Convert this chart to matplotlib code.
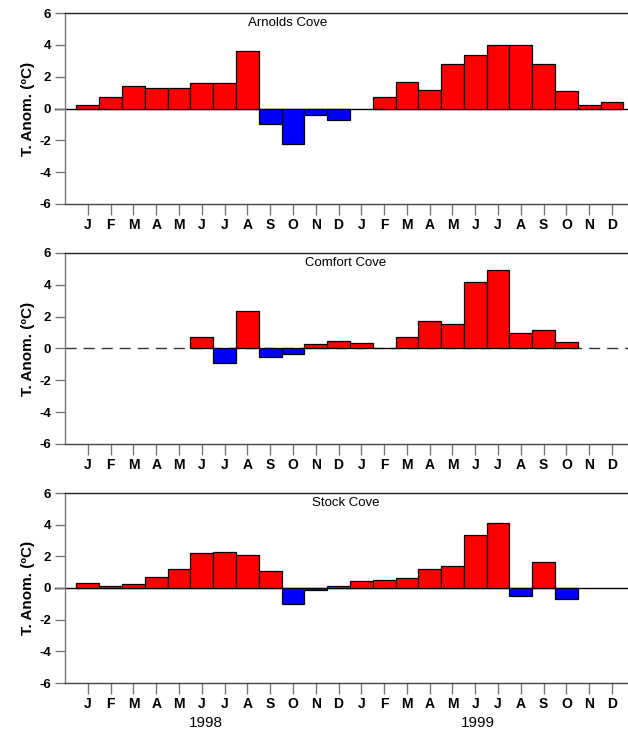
import numpy as np
import matplotlib.pyplot as plt
import matplotlib.transforms as mtransforms

plt.rcParams['font.family'] = ['Liberation Sans', 'DejaVu Sans']

months = ['J', 'F', 'M', 'A', 'M', 'J', 'J', 'A', 'S', 'O', 'N', 'D'] * 2
years = ['1998', '1999']
nan = np.nan

# monthly temperature anomalies, Jan 1998 .. Dec 1999
arnolds = [0.2, 0.7, 1.4, 1.3, 1.3, 1.6, 1.6, 3.6, -1.0, -2.2, -0.42, -0.75,
           nan, 0.75, 1.64, 1.16, 2.82, 3.39, 4.02, 4.02, 2.82, 1.09, 0.19, 0.38]
comfort = [nan, nan, nan, nan, nan, 0.75, -0.94, 2.33, -0.52, -0.34, 0.29, 0.44,
           0.36, 0.06, 0.73, 1.70, 1.55, 4.17, 4.93, 0.99, 1.17, 0.38, nan, nan]
stock = [0.31, 0.13, 0.23, 0.69, 1.17, 2.18, 2.30, 2.09, 1.07, -1.0, -0.12, 0.13,
         0.44, 0.52, 0.63, 1.23, 1.38, 3.37, 4.10, -0.50, 1.63, -0.67, nan, nan]

panels = [('Arnolds Cove', arnolds, 8.78, '-'),
          ('Comfort Cove', comfort, 11.3, 'dash'),
          ('Stock Cove', stock, 11.3, '-')]

W, H = 628, 733
fig = plt.figure(figsize=(W / 100, H / 100), dpi=100)

# pixel boxes (top, bottom) of each panel
boxes = [(13, 204), (253, 444), (493, 683)]
left_px, right_px = 65, 628

x = np.arange(24)
for (name, vals, tx, zstyle), (top, bot) in zip(panels, boxes):
    ax = fig.add_axes([left_px / W, 1 - bot / H, (right_px - left_px) / W, (bot - top) / H])
    v = np.array(vals, dtype=float)
    colors = ['#ff0000' if val >= 0 else '#0000ff' for val in np.nan_to_num(v)]
    if zstyle == 'dash':
        ax.axhline(0, color='#333333', lw=1.0, dashes=(8, 5), zorder=1)
    else:
        ax.plot([-1.45, 23.7], [0, 0], color='black', lw=1.0, zorder=1, clip_on=False)
    ax.bar(x, v, width=1.0, color=colors, edgecolor='black', linewidth=0.9, zorder=2)

    ax.set_xlim(-1, 23.7)
    ax.set_ylim(-6, 6)
    ax.set_yticks([-6, -4, -2, 0, 2, 4, 6])
    ax.set_yticklabels(['-6', '-4', '-2', '0', '2', '4', '6'], fontsize=9.5, fontweight='bold')
    ax.set_xticks(x)
    ax.set_xticklabels(months, fontsize=10, fontweight='bold')
    ax.tick_params(axis='y', length=7, width=1, color='#777777', pad=3)
    ax.tick_params(axis='x', length=8, width=1, color='#777777', pad=2)
    ax.spines['right'].set_visible(False)
    ax.spines['left'].set_color('#777777')
    ax.spines['top'].set_color('#222222')
    ax.spines['bottom'].set_color('#444444')
    for s in ax.spines.values():
        s.set_linewidth(1)
    ax.set_ylabel('T. Anom. (ºC)', fontsize=11, fontweight='bold', labelpad=3)
    ax.text(tx, 5.4, name, ha='center', va='center', fontsize=9.5)

trans = mtransforms.blended_transform_factory(ax.transData, ax.transAxes)
for xpos, yr in zip([5.2, 17.1], years):
    ax.text(xpos, -0.21, yr, transform=trans, ha='center', va='center', fontsize=11)

fig.savefig('out.png', dpi=100)
